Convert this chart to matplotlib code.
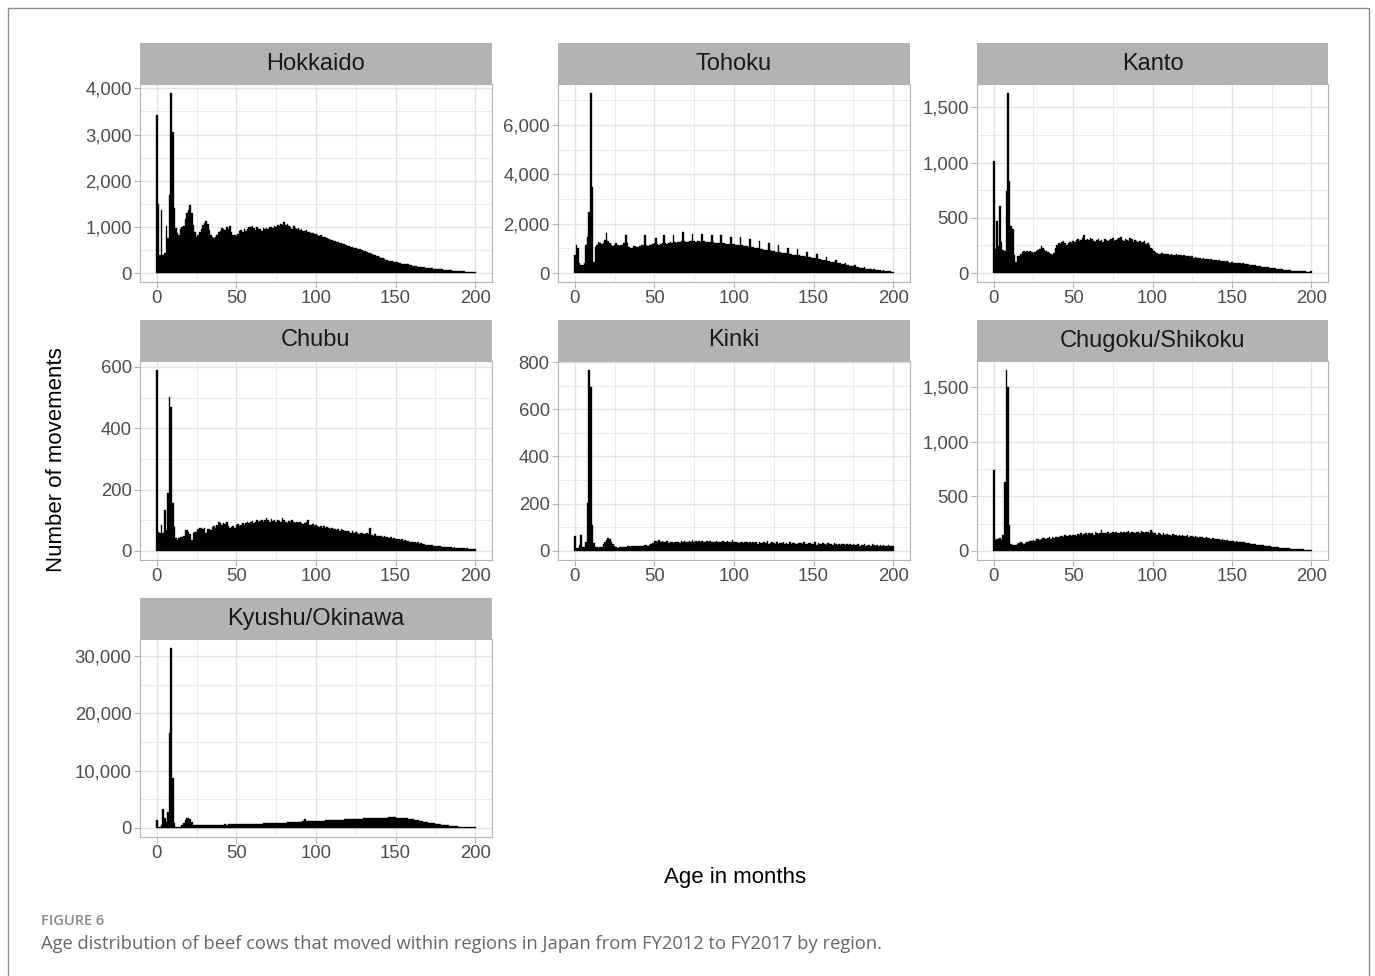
import numpy as np
import matplotlib
matplotlib.use("Agg")
import matplotlib.pyplot as plt
from matplotlib.patches import Rectangle
from matplotlib.ticker import FuncFormatter

# Age in months (one bin per month)
months = np.arange(0, 201)

regions = ["Hokkaido", "Tohoku", "Kanto", "Chubu", "Kinki",
           "Chugoku/Shikoku", "Kyushu/Okinawa"]

hokkaido = [
    3430, 1500, 390, 1360, 400, 440, 1020, 750, 1690, 3900,
    3050, 1400, 970, 860, 820, 950, 1000, 1010, 1180, 1290,
    1360, 1470, 1290, 1040, 890, 790, 820, 890, 960, 1040,
    1090, 1120, 1070, 930, 820, 790, 760, 790, 820, 890,
    910, 980, 960, 930, 990, 960, 1010, 880, 820, 830,
    810, 850, 900, 930, 890, 950, 910, 960, 1000, 990,
    1020, 980, 940, 990, 950, 960, 920, 970, 950, 980,
    960, 990, 1000, 970, 1020, 1000, 1040, 1010, 1060, 1030,
    1100, 1040, 1060, 1010, 1000, 960, 1020, 980, 960, 970,
    940, 950, 920, 900, 930, 890, 880, 860, 870, 850,
    840, 830, 810, 820, 790, 780, 790, 760, 740, 720,
    710, 700, 690, 670, 680, 650, 640, 630, 620, 600,
    590, 580, 560, 570, 550, 540, 530, 520, 510, 500,
    480, 470, 460, 440, 430, 410, 400, 390, 370, 360,
    340, 330, 320, 300, 290, 280, 270, 260, 250, 245,
    240, 230, 220, 210, 205, 200, 195, 190, 185, 180,
    170, 160, 150, 145, 140, 135, 130, 125, 122, 118,
    112, 108, 104, 100, 96, 92, 88, 84, 80, 78,
    74, 70, 67, 64, 60, 57, 54, 51, 48, 45,
    43, 40, 37, 34, 32, 30, 28, 26, 24, 22,
    20]

tohoku = [
    730, 1140, 1000, 390, 320, 330, 390, 1140, 1470, 2490,
    7300, 3500, 460, 1070, 1150, 1250, 1200, 1180, 1230, 1350,
    1610, 1300, 1200, 1130, 1100, 1150, 1200, 1120, 1080, 1130,
    1150, 1200, 1540, 1200, 1050, 1020, 1000, 1080, 1100, 1050,
    1050, 1080, 1120, 1150, 1540, 1150, 1100, 1120, 1150, 1180,
    1200, 1400, 1180, 1150, 1180, 1220, 1560, 1200, 1180, 1220,
    1240, 1200, 1560, 1250, 1220, 1240, 1260, 1280, 1680, 1300,
    1250, 1270, 1300, 1280, 1600, 1290, 1260, 1280, 1300, 1270,
    1600, 1280, 1250, 1270, 1240, 1260, 1540, 1250, 1230, 1210,
    1220, 1200, 1540, 1230, 1200, 1180, 1190, 1170, 1470, 1180,
    1160, 1150, 1140, 1130, 1450, 1120, 1100, 1090, 1080, 1060,
    1370, 1060, 1040, 1030, 1010, 1000, 1300, 990, 970, 950,
    940, 930, 1230, 920, 900, 880, 870, 860, 1130, 850,
    830, 820, 810, 800, 1000, 790, 770, 750, 740, 730,
    960, 710, 700, 690, 670, 660, 850, 650, 630, 610,
    600, 590, 760, 570, 550, 530, 520, 510, 640, 490,
    470, 460, 450, 440, 520, 420, 400, 390, 370, 350,
    420, 330, 320, 300, 290, 280, 330, 260, 240, 220,
    200, 190, 230, 180, 170, 160, 150, 140, 170, 130,
    120, 115, 110, 100, 110, 90, 85, 75, 70, 60,
    55]

kanto = [
    1010, 220, 470, 240, 610, 280, 210, 200, 740, 1630,
    830, 430, 400, 160, 100, 150, 150, 170, 190, 200,
    190, 200, 190, 200, 190, 180, 190, 200, 210, 220,
    240, 230, 210, 200, 190, 180, 170, 160, 180, 230,
    250, 270, 260, 280, 290, 270, 250, 270, 280, 270,
    290, 280, 300, 310, 290, 300, 320, 340, 300, 310,
    300, 320, 310, 290, 280, 300, 310, 290, 300, 280,
    310, 300, 290, 300, 310, 320, 290, 300, 310, 320,
    330, 300, 290, 310, 300, 290, 320, 310, 280, 300,
    290, 280, 290, 270, 280, 290, 260, 270, 250, 230,
    220, 200, 190, 180, 170, 175, 180, 170, 175, 170,
    170, 165, 170, 160, 165, 170, 160, 165, 160, 155,
    160, 150, 155, 150, 145, 150, 140, 145, 140, 135,
    140, 130, 135, 130, 125, 130, 120, 125, 120, 115,
    120, 110, 115, 110, 105, 110, 100, 105, 100, 95,
    100, 95, 90, 95, 88, 90, 85, 88, 80, 82,
    78, 75, 72, 74, 68, 70, 65, 66, 60, 58,
    56, 54, 52, 50, 48, 46, 45, 42, 40, 38,
    36, 34, 32, 30, 28, 26, 25, 24, 22, 20,
    19, 18, 17, 16, 15, 14, 14, 13, 12, 12,
    15]

chubu = [
    590, 63, 58, 85, 58, 134, 68, 188, 503, 471,
    155, 79, 41, 36, 41, 47, 47, 50, 68, 68,
    63, 55, 36, 58, 62, 63, 70, 74, 74, 72,
    74, 60, 70, 72, 68, 79, 80, 76, 85, 96,
    90, 85, 92, 88, 96, 80, 74, 78, 82, 76,
    84, 88, 80, 86, 90, 84, 92, 96, 90, 94,
    98, 92, 96, 100, 94, 98, 102, 96, 100, 109,
    100, 96, 104, 98, 100, 94, 102, 98, 96, 109,
    100, 96, 92, 98, 94, 100, 96, 90, 94, 92,
    96, 90, 88, 92, 94, 101, 86, 84, 88, 82,
    84, 80, 78, 82, 76, 80, 74, 78, 76, 72,
    74, 70, 72, 68, 72, 66, 70, 68, 64, 66,
    64, 62, 60, 64, 58, 62, 60, 56, 58, 60,
    56, 54, 58, 56, 74, 52, 50, 54, 48, 50,
    48, 50, 46, 48, 44, 46, 42, 44, 40, 42,
    40, 38, 40, 36, 38, 34, 36, 32, 34, 30,
    30, 28, 30, 26, 28, 24, 25, 22, 23, 20,
    20, 19, 18, 19, 17, 16, 17, 15, 16, 14,
    14, 13, 14, 12, 13, 12, 11, 12, 10, 11,
    10, 9, 10, 9, 8, 9, 8, 7, 8, 7,
    7]

kinki = [
    63, 11, 12, 25, 68, 18, 18, 40, 204, 766,
    695, 110, 32, 18, 15, 14, 16, 18, 28, 38,
    48, 56, 52, 40, 28, 20, 15, 14, 15, 16,
    17, 18, 18, 19, 20, 18, 20, 21, 20, 22,
    20, 22, 21, 20, 24, 26, 22, 24, 30, 34,
    42, 44, 40, 46, 38, 44, 36, 40, 42, 34,
    38, 36, 34, 40, 38, 36, 35, 42, 38, 44,
    36, 40, 42, 38, 46, 40, 44, 38, 42, 36,
    44, 40, 38, 42, 40, 44, 38, 36, 40, 42,
    38, 40, 36, 42, 38, 40, 44, 38, 36, 48,
    40, 38, 36, 34, 38, 36, 32, 40, 38, 34,
    36, 32, 38, 34, 36, 30, 40, 34, 32, 36,
    34, 42, 30, 34, 38, 32, 28, 36, 30, 34,
    32, 36, 30, 34, 28, 36, 30, 32, 34, 30,
    28, 32, 34, 30, 36, 28, 30, 34, 32, 28,
    30, 40, 26, 32, 30, 28, 34, 30, 26, 32,
    28, 30, 26, 32, 28, 26, 30, 24, 28, 30,
    26, 28, 24, 30, 26, 28, 24, 26, 28, 22,
    26, 24, 28, 22, 26, 24, 22, 28, 24, 22,
    24, 20, 26, 22, 24, 20, 22, 24, 20, 22,
    22]

chugoku_shikoku = [
    740, 100, 110, 105, 115, 100, 146, 634, 1654, 1502,
    238, 61, 55, 52, 55, 60, 70, 85, 70, 60,
    70, 85, 80, 95, 90, 100, 95, 110, 105, 100,
    110, 115, 120, 105, 115, 125, 110, 130, 120, 125,
    130, 125, 135, 140, 130, 145, 135, 140, 150, 140,
    145, 150, 140, 155, 150, 160, 145, 155, 165, 150,
    160, 155, 165, 150, 170, 160, 155, 165, 190, 160,
    165, 160, 170, 155, 165, 175, 160, 170, 165, 160,
    170, 165, 175, 160, 170, 180, 165, 175, 170, 165,
    175, 170, 165, 180, 170, 160, 175, 170, 165, 190,
    175, 160, 165, 150, 160, 155, 145, 160, 150, 155,
    145, 150, 140, 155, 145, 150, 140, 145, 135, 145,
    140, 135, 145, 130, 140, 135, 125, 135, 130, 120,
    130, 125, 120, 115, 125, 120, 115, 110, 120, 110,
    110, 105, 110, 100, 105, 100, 95, 100, 95, 90,
    95, 90, 85, 90, 85, 80, 85, 78, 80, 75,
    72, 70, 68, 65, 62, 60, 58, 55, 52, 50,
    50, 48, 46, 44, 42, 40, 38, 36, 34, 32,
    31, 30, 28, 27, 26, 24, 23, 22, 21, 20,
    19, 18, 17, 16, 15, 14, 13, 12, 11, 10,
    10]

kyushu_okinawa = [
    1400, 240, 230, 600, 3400, 1700, 1100, 2850, 16500, 31400,
    8700, 810, 260, 230, 240, 250, 500, 900, 1400, 1700,
    1750, 1500, 1000, 600, 520, 500, 510, 520, 500, 530,
    520, 540, 530, 550, 540, 560, 550, 570, 560, 580,
    600, 590, 610, 620, 600, 630, 620, 640, 630, 650,
    640, 660, 650, 670, 680, 660, 690, 700, 690, 710,
    720, 740, 730, 760, 750, 780, 770, 800, 790, 820,
    810, 840, 830, 860, 850, 880, 870, 900, 890, 920,
    930, 950, 960, 980, 990, 1010, 1030, 1040, 1060, 1080,
    1100, 1130, 1200, 1570, 1150, 1140, 1160, 1180, 1190, 1200,
    1220, 1230, 1250, 1260, 1280, 1290, 1310, 1320, 1340, 1350,
    1370, 1380, 1400, 1410, 1430, 1440, 1460, 1470, 1490, 1500,
    1520, 1530, 1550, 1560, 1580, 1590, 1610, 1620, 1640, 1650,
    1660, 1680, 1690, 1700, 1720, 1730, 1740, 1750, 1760, 1770,
    1780, 1790, 1800, 1810, 1820, 1830, 1840, 1840, 1850, 1850,
    1840, 1830, 1820, 1800, 1780, 1750, 1720, 1680, 1640, 1600,
    1550, 1500, 1450, 1400, 1350, 1290, 1230, 1170, 1110, 1050,
    990, 940, 890, 840, 790, 740, 700, 660, 620, 580,
    540, 500, 470, 440, 410, 380, 350, 320, 300, 280,
    260, 240, 220, 200, 190, 180, 170, 160, 150, 140,
    130]

counts = [hokkaido, tohoku, kanto, chubu, kinki, chugoku_shikoku, kyushu_okinawa]

y_breaks = [
    [0, 1000, 2000, 3000, 4000],
    [0, 2000, 4000, 6000],
    [0, 500, 1000, 1500],
    [0, 200, 400, 600],
    [0, 200, 400, 600, 800],
    [0, 500, 1000, 1500],
    [0, 10000, 20000, 30000],
]
x_breaks = [0, 50, 100, 150, 200]

W, H = 1375, 976
plt.rcParams['font.family'] = ['Liberation Sans', 'DejaVu Sans']
fig = plt.figure(figsize=(W / 100, H / 100), dpi=100)


def rect(l, t, r, b):
    return [l / W, 1 - b / H, (r - l) / W, (b - t) / H]


col_x = [(140, 492), (558, 910), (977, 1328)]
row_y = [(43, 84, 282), (320, 361, 560), (598, 639, 837)]

grid_col = '#E3E3E3'
border_col = '#B3B3B3'

for i, name in enumerate(regions):
    r, c = divmod(i, 3)
    l, rr = col_x[c]
    st, pt, pb = row_y[r]
    ax = fig.add_axes(rect(l, pt, rr, pb))
    vals = np.array(counts[i])
    ax.bar(months, vals, width=1.0, color='black', edgecolor='black', linewidth=0.25, zorder=3)

    ymax = vals.max()
    lo, hi = -0.05 * ymax, 1.05 * ymax
    yb = y_breaks[i]
    step = yb[1] - yb[0]
    ax.set_yticks(yb)
    ax.set_yticks([v + step / 2 for v in yb if v + step / 2 < hi], minor=True)
    ax.set_xticks(x_breaks)
    ax.set_xticks([25, 75, 125, 175], minor=True)
    ax.set_ylim(lo, hi)
    ax.set_xlim(-10.55, 210.55)
    ax.yaxis.set_major_formatter(FuncFormatter(lambda v, p: f"{v:,.0f}"))

    ax.grid(which='major', color=grid_col, linewidth=1.0, zorder=0)
    ax.grid(which='minor', color=grid_col, linewidth=0.5, zorder=0)
    ax.set_axisbelow(True)
    ax.tick_params(which='major', direction='out', length=4, width=0.8,
                   color=border_col, labelcolor='#4D4D4D', labelsize=13.3, pad=2)
    ax.tick_params(which='minor', length=0)
    for s in ax.spines.values():
        s.set_color(border_col)
        s.set_linewidth(0.8)

    sax = fig.add_axes(rect(l, st, rr, pt))
    sax.set_facecolor('#B3B3B3')
    sax.set_xticks([])
    sax.set_yticks([])
    for s in sax.spines.values():
        s.set_visible(False)
    sax.text(0.5, 0.5, name, ha='center', va='center', fontsize=17,
             color='#1A1A1A', transform=sax.transAxes)

# axis titles
fig.text(735 / W, 1 - 878 / H, "Age in months", ha='center', va='center', fontsize=16, color='black')
fig.text(57 / W, 1 - 460 / H, "Number of movements", ha='center', va='center',
         rotation=90, fontsize=16, color='black')

# outer frame and caption
fig.patches.append(Rectangle((8 / W, -0.01), (1369 - 8) / W, 1 - 8 / H + 0.01,
                             transform=fig.transFigure, fill=False,
                             edgecolor='#8C8C8C', linewidth=1.0))
fig.text(41 / W, 1 - 921 / H, "FIGURE 6", ha='left', va='center', fontsize=10.5,
         color='#8A8A8A', family=['Open Sans', 'DejaVu Sans'], fontweight='semibold')
fig.text(41 / W, 1 - 944 / H,
         "Age distribution of beef cows that moved within regions in Japan from FY2012 to FY2017 by region.",
         ha='left', va='center', fontsize=13.2, color='#666666',
         family=['Open Sans', 'DejaVu Sans'])

fig.savefig("out.png", dpi=100)
